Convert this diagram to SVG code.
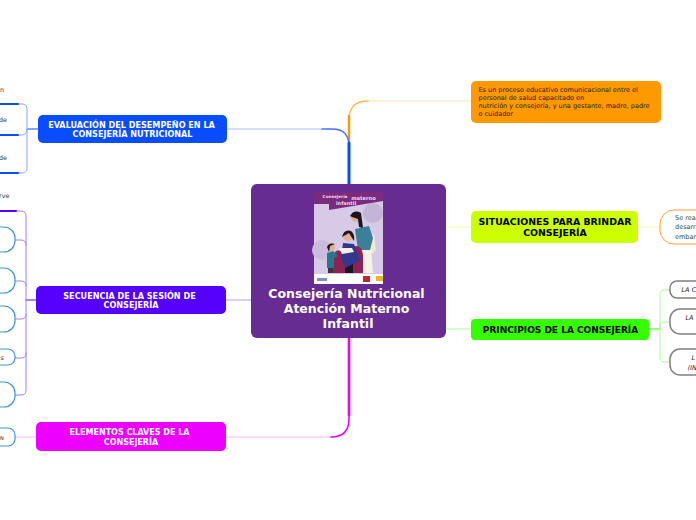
<svg xmlns="http://www.w3.org/2000/svg" width="696" height="520" viewBox="0 0 696 520">
<style>
text{font-family:"DejaVu Sans",Verdana,sans-serif}
.c{fill:none;stroke-linecap:round}
.m{text-anchor:middle;font-weight:bold}
.w{fill:#fff}
.k{fill:#000}
.s{font-size:6.4px;fill:#333}
.i{font-size:6.5px;font-style:italic;fill:#222}
.d{font-size:6.5px;fill:#222}
.t{font-size:6.5px;fill:#27544a}
.h{font-size:12.5px;fill:#fff}
.b{fill:#fff;stroke:#3d97d3;stroke-width:1.2}
.g{fill:#fff;stroke:#808080;stroke-width:1.5}
</style>
<rect width="696" height="520" fill="#fff"/>
<g id="connectors">
<path class="c" d="M228 129H322" stroke="#a8c0ff" stroke-width="1"/>
<path class="c" d="M471 101H368" stroke="#ffe2b0" stroke-width="1.200"/>
<path class="c" d="M368 101Q349 101 349 120V140" stroke="#ffb84d" stroke-width="1.300"/>
<path class="c" d="M349 116V142" stroke="#ff9900" stroke-width="2.400"/>
<path class="c" d="M322 129H332Q349 129 349 146" stroke="#3f74ff" stroke-width="1.300"/>
<path class="c" d="M349 143V184" stroke="#0a4dff" stroke-width="3"/>
<path class="c" d="M446 227H471" stroke="#eeffa0" stroke-width="1.200"/>
<path class="c" d="M446 329H471" stroke="#b0ff9a" stroke-width="1.200"/>
<path class="c" d="M251 300H226" stroke="#b79aff" stroke-width="1"/>
<path class="c" d="M226 437H331" stroke="#f8b8ff" stroke-width="1.200"/>
<path class="c" d="M331 437Q349 437 349 419V400" stroke="#ee00ff" stroke-width="1.600"/>
<path class="c" d="M349 338V415" stroke="#ee00ff" stroke-width="2.600"/>
<path class="c" d="M638 227H660" stroke="#eeffa0" stroke-width="1.200"/>
<path class="c" d="M649 329H660" stroke="#33ff00" stroke-width="1"/>
<path class="c" d="M660 329V295Q660 290 665 290H670M660 327Q660 322 665 322H670M660 329V357Q660 362 665 362H670" stroke="#a8f898" stroke-width="1"/>
<path class="c" d="M38 129H27" stroke="#0a4dff" stroke-width="1"/>
<path class="c" d="M27 129V109Q27 104 22 104H18M27 129Q27 135 22 135H18M27 129V168Q27 173 22 173H18" stroke="#8aa8ff" stroke-width="1"/>
<path class="c" d="M0 104H18M0 135H18M0 173H18" stroke="#0a4dff" stroke-width="2"/>
<path class="c" d="M36 300H26" stroke="#5500ff" stroke-width="1"/>
<path class="c" d="M26 300V216Q26 211 21 211H16M26 245Q26 240 21 240H15M26 286Q26 281 21 281H15M26 314Q26 319 21 319H15M26 300V353Q26 358 21 358H15M26 353V390Q26 395 21 395H15" stroke="#a57dff" stroke-width="1"/>
<path class="c" d="M0 211H16" stroke="#5500ff" stroke-width="2"/>
<path class="c" d="M36 437H15" stroke="#f8b8ff" stroke-width="1"/>
</g>
<g id="central">
<rect x="251" y="184" width="195" height="154" rx="6" fill="#672c91"/>
<rect x="314" y="192" width="69" height="92" rx="1" fill="#d6cae6"/>
<circle cx="373" cy="213" r="10" fill="#c3b4d8"/>
<circle cx="322" cy="250" r="10" fill="#c9bcdc"/>
<circle cx="338" cy="262" r="12" fill="#c9bcdc"/>
<path d="M314 192H383V201L329 210V204H314Z" fill="#7a2b7e"/>
<rect x="314" y="274" width="69" height="10" fill="#fff"/>
<path d="M368 236L374 234L376 250L372 254L369 250Z" fill="#f0e9cc"/>
<path d="M355 229L369 226L373 238L370 250H358Z" fill="#3b8098"/>
<path d="M361 250H371L373 273H363Z" fill="#f7f3e4"/>
<circle cx="356" cy="217" r="5" fill="#e2b08e"/>
<path d="M350 216Q354 209 361 213L363 228L359 227L358 219L352 217Z" fill="#1d1420"/>
<path d="M333 273V256Q336 249 340 251L356 246Q362 246 363 255V273Z" fill="#8b2455"/>
<circle cx="348" cy="236" r="5" fill="#e2b08e"/>
<path d="M342 237Q344 229 351 231Q355 234 354 241L349 233Z" fill="#1d1420"/>
<path d="M343 243L354 244L360 260L346 269L341 258Z" fill="#33388f"/>
<path d="M345 268L353 264L353 273H345Z" fill="#1d1420"/>
<path d="M339 248H352L354 252L342 254Z" fill="#f3efe6"/>
<circle cx="331" cy="247" r="4" fill="#e2b08e"/>
<path d="M327 247Q329 242 335 244L330 246L329 252Z" fill="#1d1420"/>
<path d="M327 253L333 251L338 256L334 258V268H327Z" fill="#24798e"/>
<rect x="328" y="268" width="5" height="5" fill="#3d3240"/>
<rect x="376" y="276" width="7" height="5" fill="#e6b820"/>
<rect x="363" y="276" width="7" height="6" fill="#c2272d"/>
<rect x="317" y="278" width="10" height="3" fill="#7f8fc4"/>
<text class="m" x="335" y="198" font-size="4.200" fill="#f1dced">Consejería</text>
<text class="m" x="363.500" y="199.500" font-size="5.200" fill="#f1dced">materno</text>
<text class="m" x="346" y="205" font-size="5" fill="#f1dced">infantil</text>
<text class="m h" x="346.500" y="298">Consejería Nutricional</text>
<text class="m h" x="346.500" y="313">Atención Materno</text>
<text class="m h" x="348" y="328">Infantil</text>
</g>
<g id="evaluacion">
<rect x="38" y="115" width="189" height="28" rx="5" fill="#0a4dff"/>
<text class="m w" x="131.500" y="128" font-size="8.100">EVALUACIÓN DEL DESEMPEÑO EN LA</text>
<text class="m w" x="132.500" y="137" font-size="8.100">CONSEJERÍA NUTRICIONAL</text>
</g>
<g id="secuencia">
<rect x="36" y="286" width="190" height="28" rx="5" fill="#5500ff"/>
<text class="m w" x="129.500" y="298.500" font-size="8.100">SECUENCIA DE LA SESIÓN DE</text>
<text class="m w" x="131" y="308" font-size="8.100">CONSEJERÍA</text>
</g>
<g id="elementos">
<rect x="36" y="422" width="190" height="29" rx="5" fill="#ee00ff"/>
<text class="m w" x="129.500" y="435" font-size="8">ELEMENTOS CLAVES DE LA</text>
<text class="m w" x="131" y="445" font-size="8">CONSEJERÍA</text>
</g>
<g id="definicion">
<rect x="471" y="81" width="190" height="42" rx="5" fill="#ff9900"/>
<text class="d" x="478.500" y="92">Es un proceso educativo comunicacional entre el</text>
<text class="d" x="478.500" y="100">personal de salud capacitado en</text>
<text class="d" x="478.500" y="108">nutrición y consejería, y una gestante, madre, padre</text>
<text class="d" x="478.500" y="116">o cuidador</text>
</g>
<g id="situaciones">
<rect x="471" y="211" width="167" height="32" rx="5" fill="#ccff00"/>
<text class="m k" x="555" y="225" font-size="9.400">SITUACIONES PARA BRINDAR</text>
<text class="m k" x="555" y="236" font-size="9.400">CONSEJERÍA</text>
</g>
<g id="principios">
<rect x="471" y="319" width="178" height="21" rx="4" fill="#33ff00"/>
<text class="m k" x="560.500" y="333" font-size="9">PRINCIPIOS DE LA CONSEJERÍA</text>
</g>
<g id="situacion-detalle">
<rect x="660" y="210" width="60" height="34" rx="14" fill="#fff" stroke="#ff9f33" stroke-width="1"/>
<text class="t" x="675" y="220">Se rea</text>
<text class="t" x="675" y="229">desarr</text>
<text class="t" x="675" y="238.500">embar</text>
</g>
<g id="principio-1">
<rect x="670" y="281" width="60" height="17" rx="7" class="g"/>
<text class="i" x="681.500" y="292">LA C</text>
</g>
<g id="principio-2">
<rect x="670" y="309" width="60" height="25" rx="10" class="g"/>
<text class="i" x="685.500" y="320">LA</text>
</g>
<g id="principio-3">
<rect x="670" y="349" width="60" height="26" rx="10" class="g"/>
<text class="i" x="691.500" y="360">L</text>
<text class="i" x="687.500" y="369.500">(IN</text>
</g>
<g id="evaluacion-hijos">
<text class="s" x="0" y="92">n</text>
<text class="s" x="-1" y="122">de</text>
<text class="s" x="-1" y="160">de</text>
</g>
<g id="secuencia-hijos">
<text class="s" x="-1" y="198">rve</text>
<rect x="-40" y="227" width="55" height="25" rx="11" class="b"/>
<rect x="-40" y="268" width="55" height="25" rx="11" class="b"/>
<rect x="-40" y="306" width="55" height="26" rx="11" class="b"/>
<rect x="-40" y="349" width="55" height="16" rx="7" class="b"/>
<text class="s" x="0.500" y="360">s</text>
<rect x="-40" y="382" width="55" height="25" rx="11" class="b"/>
</g>
<g id="elementos-hijos">
<rect x="-40" y="428" width="55" height="18" rx="7" class="b"/>
<text x="0" y="440" font-size="5" fill="#222">N</text>
</g>
</svg>
